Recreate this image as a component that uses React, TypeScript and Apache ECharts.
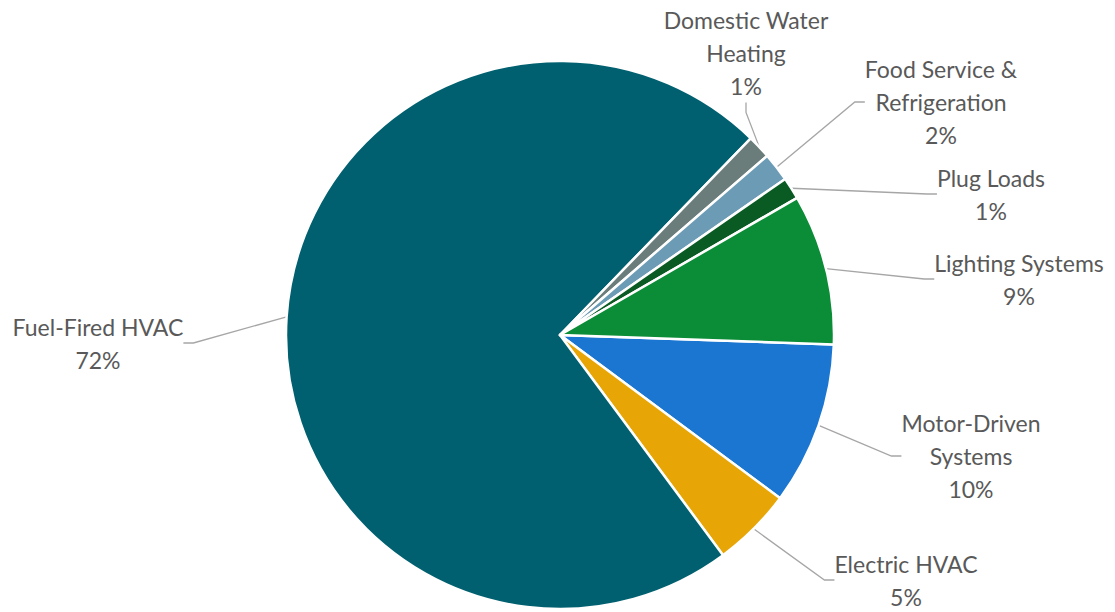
import React, { useEffect, useRef } from 'react';
import * as echarts from 'echarts';

// Slices listed clockwise starting just below 3 o'clock
const categories = [
  'Motor-Driven\nSystems',
  'Electric HVAC',
  'Fuel-Fired HVAC',
  'Domestic Water\nHeating',
  'Food Service &\nRefrigeration',
  'Plug Loads',
  'Lighting Systems',
];
const shares = [9.6, 4.7, 72.4, 1.4, 1.7, 1.3, 8.9];

const sliceColors = ['#1b76d1', '#e8a606', '#00606f', '#6b7d7b', '#6c9bb6', '#0a5a24', '#0b8c36'];
// label block centres (layout only)
const labelCenters = [
  [971, 456],
  [906, 580],
  [98, 343],
  [746, 53],
  [941, 102],
  [991, 194],
  [1019, 279],
];

export default function App() {
  const ref = useRef<HTMLDivElement>(null);
  useEffect(() => {
    document.body.style.margin = '0';
    const chart = echarts.init(ref.current!, null, { renderer: 'svg' });
    chart.setOption({
      animation: false,
      backgroundColor: '#ffffff',
      series: [
        {
          type: 'pie',
          center: [560, 335],
          radius: 274,
          startAngle: -2,
          clockwise: true,
          avoidLabelOverlap: false,
          data: categories.map((name, i) => ({
            name,
            value: shares[i],
            itemStyle: { color: sliceColors[i] },
          })),
          itemStyle: { borderColor: '#ffffff', borderWidth: 2.5 },
          label: {
            show: true,
            formatter: (p: any) => `${p.name}\n${Math.round(p.value)}%`,
            color: '#595959',
            fontSize: 23,
            fontFamily: 'Lato, "Open Sans", sans-serif',
            lineHeight: 33,
            align: 'center',
          },
          labelLine: {
            show: true,
            length: 10,
            length2: 10,
            lineStyle: { color: '#a6a6a6', width: 1.3 },
          },
          labelLayout: (params: any) => {
            const c = labelCenters[params.dataIndex];
            return { x: c[0], y: c[1], align: 'center', verticalAlign: 'middle' };
          },
          emphasis: { disabled: true },
        },
      ],
    });
    return () => chart.dispose();
  }, []);
  return <div ref={ref} style={{ width: 1115, height: 612 }} />;
}
